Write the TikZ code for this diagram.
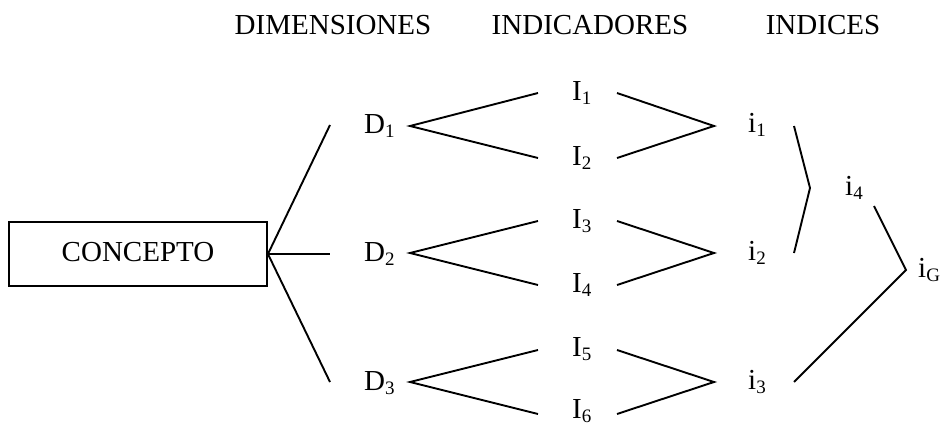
\documentclass[tikz,border=0pt]{standalone}
\usepackage{fontspec}
\setmainfont{Liberation Serif}
\newcommand\lbl[2]{#1\raisebox{-4pt}{\fontsize{19}{19}\selectfont #2}}
\begin{document}
\begin{tikzpicture}[x=1pt,y=-1pt,
  every node/.style={inner sep=0pt,font=\fontsize{29}{34}\selectfont},
  lab/.style={anchor=base west},
  head/.style={anchor=base},
  conn/.style={line width=1.9pt,line join=miter}]
\useasboundingbox (0,0) rectangle (944,423);
% headers
\node[head] (hD) at (333,34) {DIMENSIONES};
\node[head] (hI) at (590,34) {INDICADORES};
\node[head] (hi) at (823,34) {INDICES};
% concept box
\node[draw,line width=1.9pt,minimum width=258pt,minimum height=64pt] (C) at (138,254) {};
\node[anchor=base] (Ct) at (138,261) {CONCEPTO};
% labels
\node[lab] (D1) at (364,133) {\lbl{D}{1}};
\node[lab] (D2) at (364,261) {\lbl{D}{2}};
\node[lab] (D3) at (364,390) {\lbl{D}{3}};
\node[lab] (I1) at (572,100) {\lbl{I}{1}};
\node[lab] (I2) at (572,165) {\lbl{I}{2}};
\node[lab] (I3) at (572,228) {\lbl{I}{3}};
\node[lab] (I4) at (572,292) {\lbl{I}{4}};
\node[lab] (I5) at (572,356) {\lbl{I}{5}};
\node[lab] (I6) at (572,418) {\lbl{I}{6}};
\node[lab] (i1) at (748,132) {\lbl{i}{1}};
\node[lab] (i2) at (748,260) {\lbl{i}{2}};
\node[lab] (i3) at (748,389) {\lbl{i}{3}};
\node[lab] (i4) at (845,195) {\lbl{i}{4}};
\node[lab] (iG) at (918,277) {\lbl{i}{G}};
% connector points
\coordinate (cD1) at (330,125);
\coordinate (cD2) at (330,254);
\coordinate (cD3) at (330,382);
\foreach \k/\y in {1/126,2/253,3/382}{
  \coordinate (a\k) at (410,\y);
  \coordinate (b\k) at (714,\y);
}
\coordinate (u1) at (538,93);  \coordinate (v1) at (617,93);
\coordinate (u2) at (538,158); \coordinate (v2) at (617,158);
\coordinate (u3) at (538,221); \coordinate (v3) at (617,221);
\coordinate (u4) at (538,285); \coordinate (v4) at (617,285);
\coordinate (u5) at (538,350); \coordinate (v5) at (617,350);
\coordinate (u6) at (538,414); \coordinate (v6) at (617,414);
\coordinate (p1) at (794,126);
\coordinate (p2) at (794,253);
\coordinate (p3) at (794,382);
\coordinate (q4) at (810,188);
\coordinate (r4) at (874,206);
\coordinate (qG) at (906,270);
% connectors
\draw[conn] (cD1) -- (C.east) -- (cD3);
\draw[conn] (C.east) -- (cD2);
\draw[conn] (u1) -- (a1) -- (u2);
\draw[conn] (u3) -- (a2) -- (u4);
\draw[conn] (u5) -- (a3) -- (u6);
\draw[conn] (v1) -- (b1) -- (v2);
\draw[conn] (v3) -- (b2) -- (v4);
\draw[conn] (v5) -- (b3) -- (v6);
\draw[conn] (p1) -- (q4) -- (p2);
\draw[conn] (r4) -- (qG) -- (p3);
\end{tikzpicture}
\end{document}
